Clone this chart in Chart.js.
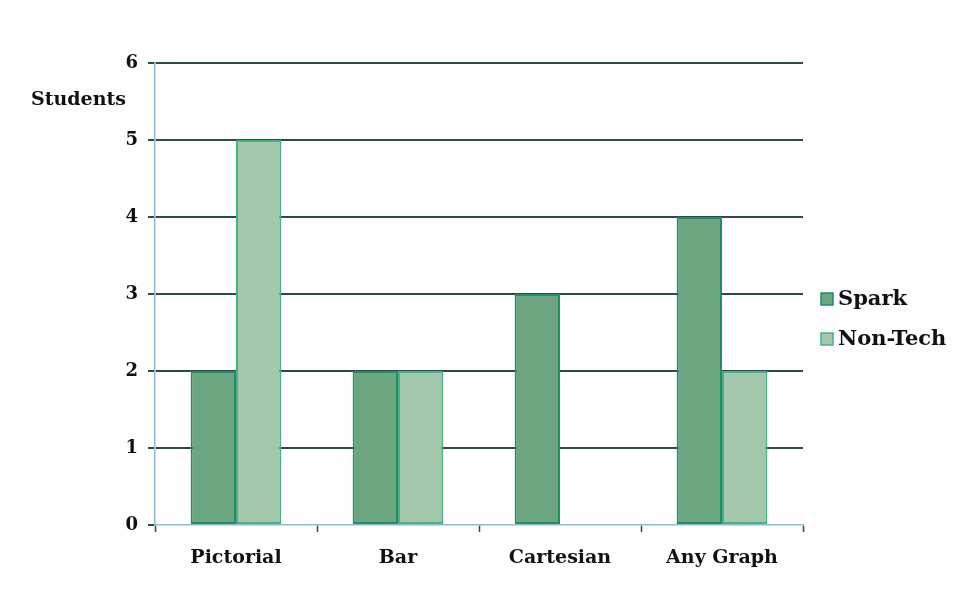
<!DOCTYPE html>
<html>
<head>
<meta charset="utf-8">
<script src="https://cdn.jsdelivr.net/npm/chart.js@4/dist/chart.umd.min.js"></script>
<style>
  html, body { margin: 0; padding: 0; background: #fefefe; }
  #wrap { width: 961px; height: 590px; }
</style>
</head>
<body>
<div id="wrap"><canvas id="chart" width="961" height="590"></canvas></div>
<script>
const categories = ["Pictorial", "Bar", "Cartesian", "Any Graph"];
const sparkValues = [2, 2, 3, 4];
const nonTechValues = [5, 2, 0, 2];
const yTicks = [0, 1, 2, 3, 4, 5, 6];

const FONT = "'DejaVu Serif', serif";
const gridDark = "#2f4848";
const axisBlue = "#8fbad0";

// "Students" caption and the legend on the right
const extras = {
  id: "extras",
  afterDraw(chart) {
    const ctx = chart.ctx;
    const area = chart.chartArea;
    const y = chart.scales.y;
    ctx.save();
    ctx.fillStyle = "#111";
    ctx.font = "bold 19px " + FONT;
    ctx.textAlign = "right";
    ctx.textBaseline = "middle";
    ctx.fillText("Students", area.left - 29, y.getPixelForValue(5.52));

    const items = chart.data.datasets;
    ctx.textAlign = "left";
    ctx.font = "bold 21px " + FONT;
    items.forEach((ds, i) => {
      const cy = area.top + 236 + i * 40;
      const bx = area.right + 18;
      ctx.fillStyle = ds.backgroundColor;
      ctx.fillRect(bx, cy - 6, 12, 12);
      ctx.strokeStyle = ds.borderColor;
      ctx.lineWidth = 1.5;
      ctx.strokeRect(bx, cy - 6, 12, 12);
      ctx.fillStyle = "#111";
      ctx.fillText(ds.label, bx + 17, cy + 1);
    });
    ctx.restore();
  }
};

new Chart(document.getElementById("chart"), {
  type: "bar",
  data: {
    labels: categories,
    datasets: [
      {
        label: "Spark",
        data: sparkValues,
        backgroundColor: "#6ca57f",
        borderColor: "#1f8f63",
        borderWidth: 2,
        borderSkipped: false
      },
      {
        label: "Non-Tech",
        data: nonTechValues,
        backgroundColor: "#a3c8ab",
        borderColor: "#4aae88",
        borderWidth: 2,
        borderSkipped: false
      }
    ]
  },
  options: {
    responsive: false,
    animation: false,
    layout: { padding: { top: 63, right: 158, bottom: 0, left: 0 } },
    datasets: {
      bar: { categoryPercentage: 0.56, barPercentage: 1.0 }
    },
    plugins: {
      legend: { display: false },
      tooltip: { enabled: false }
    },
    scales: {
      x: {
        offset: true,
        grid: {
          offset: true,
          drawOnChartArea: false,
          drawTicks: true,
          tickLength: 7,
          tickColor: gridDark,
          tickWidth: 1.5
        },
        border: { color: axisBlue, width: 1.5 },
        ticks: {
          color: "#111",
          font: { family: FONT, size: 19, weight: "bold" },
          padding: 15
        },
        afterFit(scale) { scale.height = 65; }
      },
      y: {
        min: 0,
        max: 6,
        afterBuildTicks(scale) {
          scale.ticks = yTicks.map(v => ({ value: v }));
        },
        grid: {
          color: c => (c.tick && c.tick.value === 0 ? "rgba(0,0,0,0)" : gridDark),
          lineWidth: 2,
          tickLength: 7,
          tickColor: gridDark,
          tickWidth: 2
        },
        border: { color: axisBlue, width: 1.5 },
        ticks: {
          color: "#111",
          font: { family: FONT, size: 18, weight: "bold" },
          padding: 10
        },
        afterFit(scale) { scale.width = 155; }
      }
    }
  },
  plugins: [extras]
});
</script>
</body>
</html>
